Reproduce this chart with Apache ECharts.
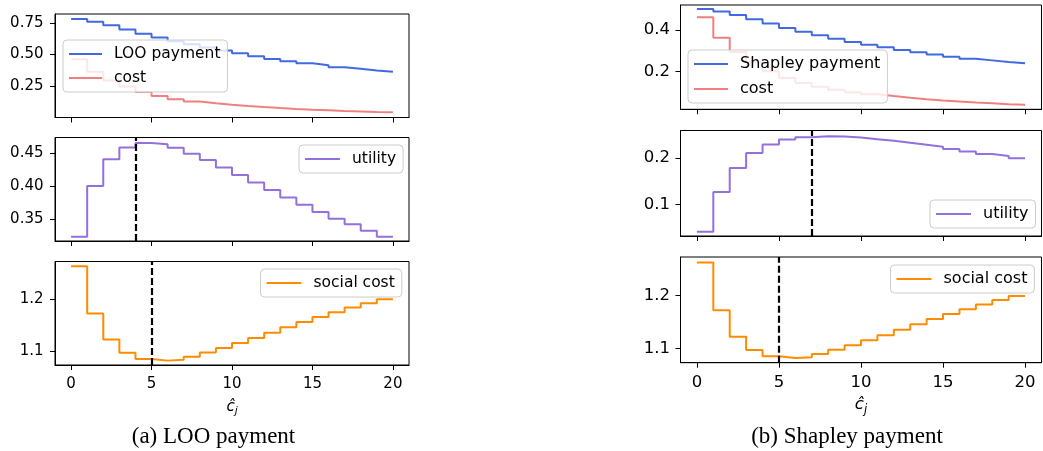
<!DOCTYPE html>
<html><head><meta charset="utf-8">
<script src="https://cdn.jsdelivr.net/npm/echarts@6/dist/echarts.min.js"></script>
<style>html,body{margin:0;padding:0;background:#fff}#c{width:1043px;height:451px}</style>
</head><body><div id="c"></div>
<script>
// ---- data ----
const xValues = [0,1,2,3,4,5,6,7,8,9,10,11,12,13,14,15,16,17,18,19,20];
const xTicks = [0,5,10,15,20];
const looPayment = [0.785,0.763,0.734,0.700,0.667,0.636,0.606,0.582,0.556,0.532,0.510,0.487,0.465,0.447,0.430,0.415,0.399,0.386,0.372,0.362];
const cost = [0.462,0.362,0.293,0.244,0.200,0.168,0.143,0.125,0.111,0.099,0.089,0.080,0.072,0.065,0.059,0.054,0.049,0.045,0.041,0.038];
const looUtility = [0.3237,0.4005,0.441,0.459,0.4657,0.464,0.4586,0.4495,0.440,0.4288,0.4172,0.406,0.3944,0.3833,0.3722,0.3611,0.351,0.3424,0.3328,0.3237];
const socialCost = [1.2628,1.1722,1.1222,1.0968,1.0848,1.0815,1.0830,1.0890,1.0972,1.1056,1.1152,1.1250,1.1352,1.1455,1.1557,1.1654,1.1744,1.1833,1.1917,1.1994];
const shapleyPayment = [0.502,0.489,0.473,0.452,0.431,0.410,0.392,0.374,0.358,0.342,0.329,0.316,0.303,0.292,0.281,0.271,0.261,0.253,0.245,0.239];
const shapleyUtility = [0.0414,0.127,0.1786,0.2107,0.2293,0.240,0.245,0.2471,0.2464,0.2443,0.2407,0.2371,0.2329,0.2286,0.2243,0.2193,0.2143,0.2086,0.2043,0.1993];
const looOptimum = [4, 5];       // dashed lines: utility row, social-cost row
const shapleyOptimum = [7, 5];
const yTicksL = [[0.25,0.50,0.75],[0.35,0.40,0.45],[1.1,1.2]];
const yTicksR = [[0.2,0.4],[0.1,0.2],[1.1,1.2]];
const yDecL = [2,2,1], yDecR = [1,1,1];
const yRangeL = [[-0.003,0.824],[0.3171,0.4742],[1.0731,1.2718]];
const yRangeR = [[0.0162,0.521],[0.0321,0.2593],[1.0727,1.2734]];
const captions = ['(a) LOO payment','(b) Shapley payment'];

// ---- styling ----
const C = {blue:'#4169E1', red:'#F08080', purple:'#9370DB', orange:'#FF8C00'};
const FF = 'DejaVu Sans';
const toPts = v => xValues.map((x,i)=>[x, v[Math.min(i, v.length-1)]]);

const gridsL = [{top:14,height:103.5},{top:137.5,height:103.5},{top:261.5,height:103.5}].map(g=>Object.assign({left:55,width:354},g));
const gridsR = [{top:5,height:104.3},{top:130.5,height:105.5},{top:257,height:105.7}].map(g=>Object.assign({left:680.5,width:361},g));
const grids = gridsL.concat(gridsR).map(g=>Object.assign({show:true,borderColor:'#000',borderWidth:1,containLabel:false},g));

const xAxes = [], yAxes = [];
for (let i=0;i<6;i++){
  const bottom = (i%3===2);
  const fs = i<3 ? 15 : 16.5;
  xAxes.push({type:'value',gridIndex:i,min:-1,max:21,position:'bottom',
    axisLine:{show:true,onZero:false,lineStyle:{color:'#000',width:1}},splitLine:{show:false},
    axisTick:{show:true,inside:false,customValues:xTicks,length:5,lineStyle:{color:'#000',width:1}},
    axisLabel:{show:bottom,customValues:xTicks,margin:12,color:'#000',fontFamily:FF,fontSize:fs},
    name: bottom ? '{c|ĉ}{j|j}' : '', nameLocation:'middle', nameGap:32,
    nameTextStyle:{rich:{c:{fontFamily:FF,fontStyle:'italic',fontSize:fs,color:'#000'},
                          j:{fontFamily:FF,fontStyle:'italic',fontSize:fs*0.7,color:'#000',padding:[9,0,0,0]}}}
  });
  const col = i<3 ? 0 : 1, r = i%3;
  const rng = col===0 ? yRangeL[r] : yRangeR[r];
  const tk = col===0 ? yTicksL[r] : yTicksR[r];
  const dec = col===0 ? yDecL[r] : yDecR[r];
  yAxes.push({type:'value',gridIndex:i,min:rng[0],max:rng[1],position:'left',
    axisLine:{show:true,onZero:false,lineStyle:{color:'#000',width:1}},splitLine:{show:false},
    axisTick:{show:true,inside:false,customValues:tk,length:5,lineStyle:{color:'#000',width:1}},
    axisLabel:{customValues:tk,margin: col===0?11.5:10.5,color:'#000',fontFamily:FF,fontSize:fs,formatter:v=>v.toFixed(dec)}
  });
}

function line(name, vals, color, idx, vline){
  const s = {type:'line',name,xAxisIndex:idx,yAxisIndex:idx,data:toPts(vals),step:'end',
    showSymbol:false,symbol:'none',color,lineStyle:{color,width:2},itemStyle:{color},z:2};
  if (vline!==undefined){
    s.markLine={silent:true,symbol:['none','none'],label:{show:false},
      lineStyle:{color:'#000',type:[7,3],width:2.2},data:[{xAxis:vline}],animation:false};
  }
  return s;
}
const series = [
  line('LOO payment', looPayment, C.blue, 0),
  line('cost', cost, C.red, 0),
  line('utility', looUtility, C.purple, 1, looOptimum[0]),
  line('social cost', socialCost, C.orange, 2, looOptimum[1]),
  line('Shapley payment', shapleyPayment, C.blue, 3),
  line('cost', cost, C.red, 3),
  line('utility', shapleyUtility, C.purple, 4, shapleyOptimum[0]),
  line('social cost', socialCost, C.orange, 5, shapleyOptimum[1])
];

function legend(names, left, top, fs, gap, iw){
  return {data:names,left,top,orient:'vertical',icon:'rect',itemWidth:iw,itemHeight:2,itemGap:gap,
    padding:[6,7,6,6],backgroundColor:'rgba(255,255,255,0.8)',borderColor:'#cccccc',borderWidth:1,borderRadius:4,
    selectedMode:false,textStyle:{fontFamily:FF,fontSize:fs,color:'#000',padding:[0,0,0,7]}};
}
const legends = [
  legend(['LOO payment','cost'], 63, 40, 15.5, 8, 33),
  legend(['utility'], 299, 145, 15.5, 8, 35),
  legend(['social cost'], 260.5, 269, 15.5, 8, 35),
  legend(['Shapley payment','cost'], 688, 50, 16, 9, 34),
  legend(['utility'], 930, 200, 16, 9, 35),
  legend(['social cost'], 890.5, 265, 16, 9, 35)
];

const titles = [
  {text:captions[0],left:208.5,top:420,textAlign:'center',textStyle:{fontFamily:'Liberation Serif',fontWeight:'normal',fontSize:23,color:'#000'}},
  {text:captions[1],left:842,top:420,textAlign:'center',textStyle:{fontFamily:'Liberation Serif',fontWeight:'normal',fontSize:23,color:'#000'}}
];

const chart = echarts.init(document.getElementById('c'));
chart.setOption({animation:false,backgroundColor:'#fff',title:titles,grid:grids,xAxis:xAxes,yAxis:yAxes,legend:legends,series});
</script></body></html>
